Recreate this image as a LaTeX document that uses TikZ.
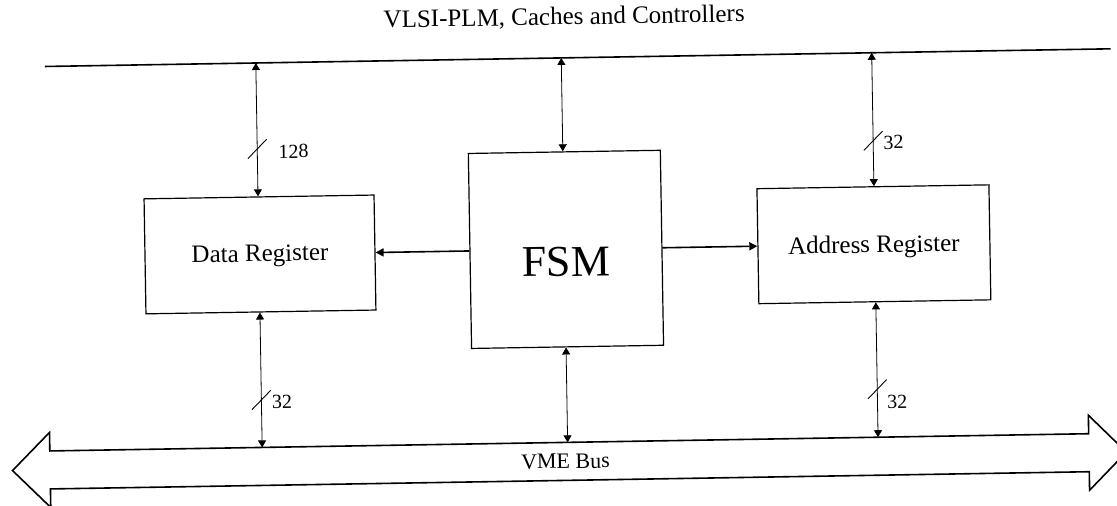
\documentclass[tikz,border=0pt]{standalone}
\usepackage{fontspec}
\setmainfont{Liberation Serif}
\usetikzlibrary{arrows.meta}
\begin{document}
\begin{tikzpicture}[x=1pt,y=-1pt,
  block/.style={draw, line width=1.2pt, inner sep=0pt, transform shape},
  boxtext/.style={font=\fontsize{25}{27}\selectfont, inner sep=0pt, transform shape},
  bidir/.style={{Triangle[length=7pt,width=8pt]}-{Triangle[length=7pt,width=8pt]}, line width=0.8pt},
  ctrl/.style={-{Triangle[length=8pt,width=8pt]}, line width=1.6pt},
  busline/.style={line width=1.6pt, line join=miter},
  widthmark/.style={line width=0.9pt},
  buswidth/.style={font=\fontsize{20}{22}\selectfont, anchor=west, inner sep=0pt, transform shape},
]
\useasboundingbox (0,0) rectangle (1117,506);
\begin{scope}[rotate around={0.95:(558,253)}]
  % title and upper bus line
  \node[font=\fontsize{25}{27}\selectfont, transform shape] (title) at (568,18) {VLSI-PLM, Caches and Controllers};
  \coordinate (tl) at (48,58);
  \coordinate (tr) at (1114,58);
  \draw[busline] (tl) -- (tr);

  % blocks
  \node[block, minimum width=230pt, minimum height=115pt] (data) at (260,249.5) {};
  \node[boxtext] (datalbl) at (260,251) {Data Register};
  \node[block, minimum width=192pt, minimum height=195pt] (fsm) at (566,249.5) {};
  \node[font=\fontsize{44}{46}\selectfont, inner sep=0pt, transform shape] (fsmlbl) at (566,262) {FSM};
  \node[block, minimum width=232pt, minimum height=115pt] (addr) at (874,249.5) {};
  \node[boxtext] (addrlbl) at (874,252) {Address Register};

  % control arrows from the FSM
  \draw[ctrl] (fsm.west) -- (data.east);
  \draw[ctrl] (fsm.east) -- (addr.west);

  % VME bus
  \draw[busline] (46.6,442.5) -- (1085.6,442.5) -- (1085.6,424) -- (1123,461.5)
     -- (1085.6,499) -- (1085.6,480.5) -- (46.6,480.5) -- (46.6,499)
     -- (9,461.5) -- (46.6,424) -- cycle;
  \node[font=\fontsize{22}{24}\selectfont, transform shape] (vme) at (562,461.5) {VME Bus};

  % attachment points on the upper line and on the VME bus
  \coordinate (tdata) at (259,58);
  \coordinate (tfsm) at (564.5,58);
  \coordinate (taddr) at (875,58);
  \coordinate (bdata) at (259,442.5);
  \coordinate (bfsm) at (564.5,442.5);
  \coordinate (baddr) at (875,442.5);

  % bidirectional links
  \draw[bidir] (tdata) -- (tdata |- data.north);
  \draw[bidir] (tfsm) -- (tfsm |- fsm.north);
  \draw[bidir] (taddr) -- (taddr |- addr.north);
  \draw[bidir] (bdata |- data.south) -- (bdata);
  \draw[bidir] (bfsm |- fsm.south) -- (bfsm);
  \draw[bidir] (baddr |- addr.south) -- (baddr);

  % bus width marks
  \draw[widthmark] (249.5,153.5) -- (268.5,134.5);
  \node[buswidth] (w128) at (280,147) {128};
  \draw[widthmark] (865.5,155.5) -- (884.5,136.5);
  \node[buswidth] (w32a) at (885,148) {32};
  \draw[widthmark] (249.5,404.5) -- (268.5,385.5);
  \node[buswidth] (w32b) at (269.5,397) {32};
  \draw[widthmark] (865.5,404) -- (884.5,385);
  \node[buswidth] (w32c) at (884.5,407.5) {32};
\end{scope}
\end{tikzpicture}
\end{document}
